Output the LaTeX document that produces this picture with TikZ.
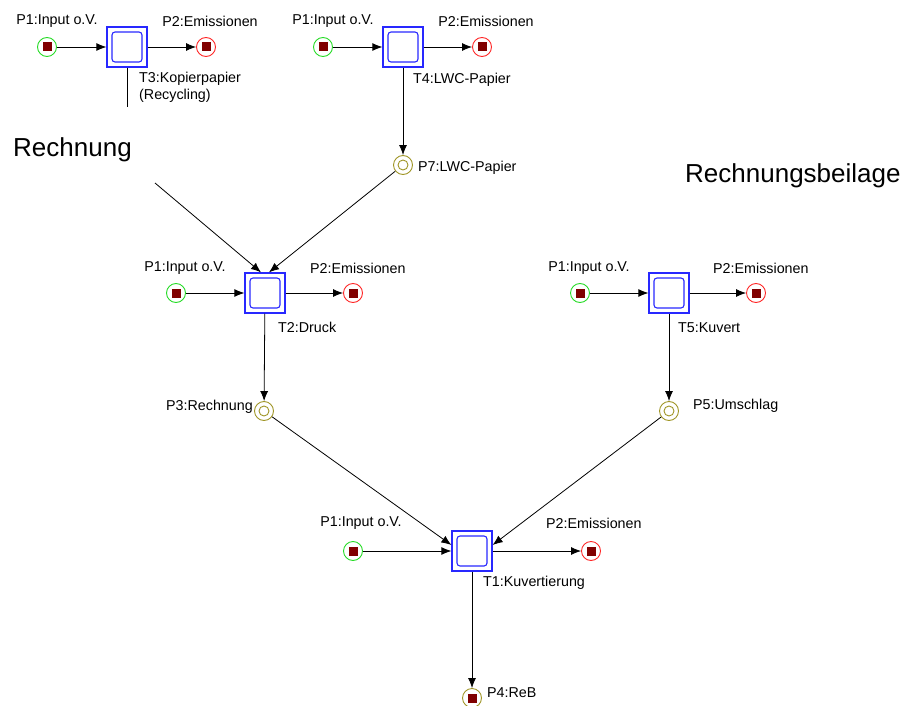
\documentclass[tikz,border=0pt]{standalone}
\usepackage{fontspec}
\setmainfont{Liberation Sans}
\usetikzlibrary{arrows.meta}

\definecolor{transblue}{RGB}{40,40,255}
\definecolor{placegreen}{RGB}{40,220,40}
\definecolor{placered}{RGB}{255,40,40}
\definecolor{placeolive}{RGB}{160,150,40}
\definecolor{tokenred}{RGB}{128,0,0}

\begin{document}
\begin{tikzpicture}[x=1pt,y=-1pt,
  trans/.style={draw=transblue, line width=1.3pt, fill=white, minimum size=40pt, inner sep=0pt,
    path picture={\draw[transblue,line width=1.1pt,rounded corners=3pt]
      ([shift={(5pt,-5pt)}]path picture bounding box.north west) rectangle
      ([shift={(-5pt,5pt)}]path picture bounding box.south east);}},
  place/.style={circle, draw, line width=0.9pt, minimum size=19pt, inner sep=0pt, fill=white},
  token/.style={path picture={\fill[tokenred]
      ([shift={(-4.5pt,-4.5pt)}]path picture bounding box.center) rectangle
      ([shift={(4.5pt,4.5pt)}]path picture bounding box.center);}},
  ring/.style={path picture={\draw[placeolive,line width=0.9pt]
      (path picture bounding box.center) circle[radius=5pt];}},
  inplace/.style={place, draw=placegreen, token},
  outplace/.style={place, draw=placered, token},
  midplace/.style={place, draw=placeolive, ring},
  endplace/.style={place, draw=placeolive, token},
  lbl/.style={font=\fontsize{14.3}{17}\selectfont, inner sep=0pt},
  big/.style={font=\fontsize{26}{30}\selectfont, inner sep=0pt},
  arc/.style={draw=black, line width=0.8pt, -{Latex[length=10pt,width=8pt]}},
  plain/.style={draw=black, line width=0.8pt}
]
\useasboundingbox (0,0) rectangle (907,706);

% --- T3: Kopierpapier (Recycling)
\node[inplace]  (a1) at (47,47) {};
\node[trans]    (t3) at (127,47) {};
\node[outplace] (a2) at (206,47) {};
\node[lbl] (la1) at (57,21) {P1:Input o.V.};
\node[lbl] (la2) at (210,21) {P2:Emissionen};
\node[lbl, anchor=north west, align=left] (lt3) at (139,72) {T3:Kopierpapier\\(Recycling)};
\coordinate (t3end) at (127,107);

% --- T4: LWC-Papier
\node[inplace]  (b1) at (323,47) {};
\node[trans]    (t4) at (403,47) {};
\node[outplace] (b2) at (482,47) {};
\node[lbl] (lb1) at (333,21) {P1:Input o.V.};
\node[lbl] (lb2) at (486,21) {P2:Emissionen};
\node[lbl, anchor=west] (lt4) at (413,80) {T4:LWC-Papier};
\node[midplace] (p7) at (403,165) {};
\node[lbl, anchor=west] (lp7) at (418,168) {P7:LWC-Papier};

% --- free labels
\node[big, anchor=base west] (rech) at (13,157) {Rechnung};
\node[big, anchor=base west] (rbei) at (685,182) {Rechnungsbeilage};
\coordinate (rstart) at (155,183);

% --- T2: Druck
\node[inplace]  (c1) at (176,293) {};
\node[trans]    (t2) at (265,293) {};
\node[outplace] (c2) at (353,293) {};
\node[lbl] (lc1) at (185,268) {P1:Input o.V.};
\node[lbl, anchor=west] (lc2) at (310,268) {P2:Emissionen};
\node[lbl, anchor=west] (lt2) at (278,327) {T2:Druck};
\node[midplace] (p3) at (264,411) {};
\node[lbl, anchor=east] (lp3) at (253,407) {P3:Rechnung};

% --- T5: Kuvert
\node[inplace]  (d1) at (580,293) {};
\node[trans]    (t5) at (669,293) {};
\node[outplace] (d2) at (756,293) {};
\node[lbl] (ld1) at (589,268) {P1:Input o.V.};
\node[lbl, anchor=west] (ld2) at (713,268) {P2:Emissionen};
\node[lbl, anchor=west] (lt5) at (678,328) {T5:Kuvert};
\node[midplace] (p5) at (669,411) {};
\node[lbl, anchor=west] (lp5) at (693,406) {P5:Umschlag};

% --- T1: Kuvertierung
\node[inplace]  (e1) at (353,551) {};
\node[trans]    (t1) at (472,551) {};
\node[outplace] (e2) at (591,551) {};
\node[lbl] (le1) at (361,523) {P1:Input o.V.};
\node[lbl, anchor=west] (le2) at (546,523) {P2:Emissionen};
\node[lbl, anchor=west] (lt1) at (483,583) {T1:Kuvertierung};
\node[endplace] (p4) at (472,698) {};
\node[lbl, anchor=west] (lp4) at (487,693) {P4:ReB};

% --- arcs
\draw[arc] (a1) -- (t3);
\draw[arc] (t3) -- (a2);
\draw[plain] (t3) -- (t3end);

\draw[arc] (b1) -- (t4);
\draw[arc] (t4) -- (b2);
\draw[arc] (t4) -- (p7);
\draw[arc] (p7) -- ([xshift=4pt]t2.north);
\draw[arc] (rstart) -- ([xshift=-4pt]t2.north);

\draw[arc] (c1) -- (t2);
\draw[arc] (t2) -- (c2);
\draw[arc] (t2) -- (p3);

\draw[arc] (d1) -- (t5);
\draw[arc] (t5) -- (d2);
\draw[arc] (t5) -- (p5);

\draw[arc] (e1) -- (t1);
\draw[arc] (t1) -- (e2);
\draw[arc] (p3) -- ([yshift=6pt]t1.west);
\draw[arc] (p5) -- ([yshift=6pt]t1.east);
\draw[arc] (t1) -- (p4);
\end{tikzpicture}
\end{document}
